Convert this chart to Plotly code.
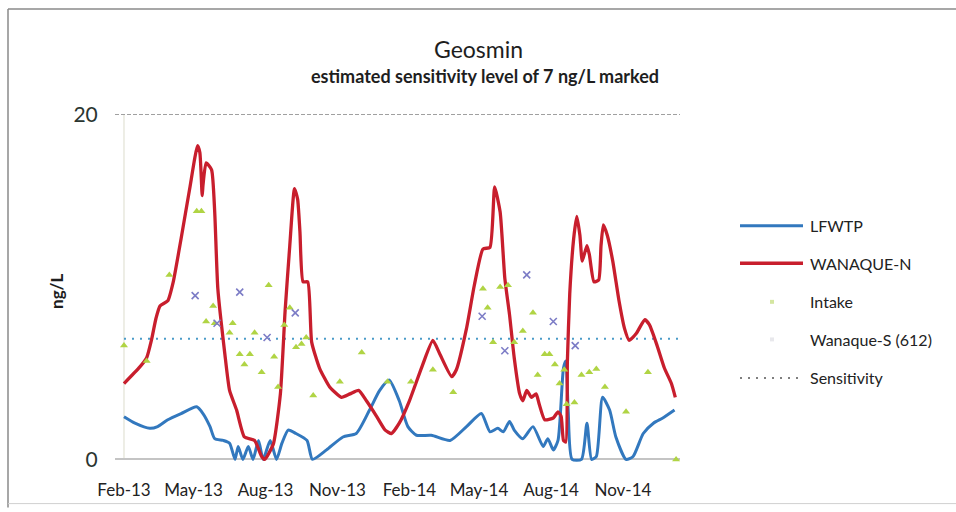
import plotly.graph_objects as go

# ---------------- data ----------------
lfwtp_dates = ["2013-02-01","2013-02-15","2013-03-06","2013-03-16","2013-03-29","2013-04-15","2013-05-05",
               "2013-05-13","2013-05-22","2013-05-28","2013-06-08","2013-06-16","2013-06-23","2013-06-27",
               "2013-07-03","2013-07-10","2013-07-16","2013-07-23","2013-07-29","2013-08-07","2013-08-15",
               "2013-08-22","2013-08-30","2013-09-09","2013-09-23","2013-09-30","2013-10-18","2013-11-08",
               "2013-11-25","2013-12-12","2013-12-25","2014-01-06","2014-01-19","2014-01-30","2014-02-10",
               "2014-03-01","2014-03-25","2014-04-15","2014-05-04","2014-05-15","2014-05-25","2014-06-01",
               "2014-06-09","2014-06-15","2014-06-26","2014-07-09","2014-07-22","2014-07-28","2014-08-04",
               "2014-08-10","2014-08-17","2014-08-20","2014-08-23","2014-08-28","2014-09-09","2014-09-16",
               "2014-09-22","2014-09-28","2014-10-06","2014-10-15","2014-10-23","2014-11-05","2014-11-14",
               "2014-11-27","2014-12-10","2014-12-22","2015-01-06"]
lfwtp_vals = [2.47,2.1,1.8,1.9,2.3,2.66,3.05,
              2.66,1.9,1.2,1.1,0.94,0.0,0.75,
              0.0,0.75,0.0,1.1,0.0,1.1,0.0,
              0.94,1.7,1.5,1.1,0.0,0.55,1.3,
              1.5,2.86,4.0,4.6,3.4,1.9,1.4,
              1.4,1.1,1.9,2.66,1.6,1.8,1.6,
              2.2,1.7,1.2,1.9,0.75,1.2,0.55,
              1.1,5.3,5.7,2.86,0.0,0.0,2.1,
              0.0,0.17,3.6,2.86,1.3,0.0,0.17,
              1.5,2.1,2.4,2.86]

wanaque_n_dates = ["2013-02-01","2013-02-21","2013-03-02","2013-03-08","2013-03-14","2013-03-19","2013-03-29",
                   "2013-04-05","2013-04-15","2013-04-26","2013-05-06","2013-05-09","2013-05-12","2013-05-13",
                   "2013-05-17","2013-05-24","2013-05-28","2013-06-01","2013-06-10","2013-06-16","2013-06-25",
                   "2013-07-05","2013-07-18","2013-07-27","2013-07-31","2013-08-11","2013-08-20","2013-08-26",
                   "2013-09-01","2013-09-07","2013-09-11","2013-09-14","2013-09-18","2013-09-24","2013-09-29",
                   "2013-10-09","2013-10-22","2013-11-06","2013-11-17","2013-11-28","2013-12-08","2013-12-21",
                   "2014-01-01","2014-01-09","2014-01-19","2014-02-01","2014-02-18","2014-03-03","2014-03-12",
                   "2014-03-27","2014-04-02","2014-04-15","2014-04-25","2014-05-06","2014-05-15","2014-05-21",
                   "2014-05-28","2014-06-03","2014-06-09","2014-06-15","2014-06-22","2014-06-26","2014-07-01",
                   "2014-07-07","2014-07-13","2014-07-17","2014-07-24","2014-08-04","2014-08-10","2014-08-14",
                   "2014-08-17","2014-08-20","2014-08-22","2014-08-25","2014-08-30","2014-09-03","2014-09-07",
                   "2014-09-10","2014-09-16","2014-09-19","2014-09-25","2014-10-01","2014-10-04","2014-10-07",
                   "2014-10-12","2014-10-19","2014-10-27","2014-11-03","2014-11-09","2014-11-18","2014-11-29",
                   "2014-12-05","2014-12-14","2014-12-24","2015-01-02","2015-01-07"]
wanaque_n_vals = [4.4,5.35,5.9,6.9,8.2,8.9,9.2,
                  10.3,12.8,15.7,18.2,17.8,15.3,15.9,
                  17.2,16.8,14.35,9.9,6.1,4.0,2.86,
                  1.3,1.1,0.17,0.0,0.9,3.8,8.6,
                  12.4,15.7,15.1,13.2,10.3,10.3,6.8,
                  5.3,4.2,3.6,3.8,4.0,3.4,2.5,
                  1.7,1.5,2.1,3.4,5.5,6.9,6.1,
                  4.8,5.2,7.6,10.1,12.2,12.3,15.8,
                  14.35,10.5,8.4,5.9,3.8,3.4,4.0,
                  3.6,3.8,3.2,2.3,2.4,2.76,2.5,
                  1.1,1.0,5.7,9.6,12.8,14.1,13.0,
                  11.5,12.4,11.9,10.3,10.4,12.4,13.6,
                  13.0,11.5,9.2,7.6,6.9,7.3,8.1,
                  7.8,6.7,5.3,4.4,3.6]

intake_dates = ["2013-02-01","2013-03-02","2013-03-31","2013-05-05","2013-05-11","2013-05-17","2013-05-26",
                "2013-05-28","2013-06-16","2013-06-20","2013-06-29","2013-07-05","2013-07-12","2013-07-18",
                "2013-07-27","2013-08-05","2013-08-12","2013-08-17","2013-08-25","2013-09-01","2013-09-09",
                "2013-09-16","2013-09-22","2013-10-01","2013-11-04","2013-12-02","2014-01-04","2014-02-03",
                "2014-03-03","2014-03-29","2014-05-06","2014-05-12","2014-05-19","2014-05-28","2014-06-07",
                "2014-06-15","2014-06-26","2014-07-09","2014-07-15","2014-07-24","2014-07-30","2014-08-06",
                "2014-08-12","2014-08-18","2014-08-21","2014-08-31","2014-09-09","2014-09-19","2014-09-28",
                "2014-10-09","2014-11-05","2014-12-03","2015-01-08"]
intake_vals = [6.6,5.7,10.7,14.4,14.4,8.0,8.9,
               7.9,7.35,7.9,6.1,5.5,6.1,7.35,
               5.06,10.1,5.96,4.2,7.8,8.8,6.5,
               6.7,7.07,3.7,4.5,6.2,4.5,4.5,
               5.2,3.9,9.9,8.8,6.8,10.0,10.1,
               6.8,7.45,8.5,4.9,6.1,6.1,5.5,
               4.4,5.2,3.2,3.3,4.9,5.06,5.25,
               4.2,2.76,5.06,0.0]

wanaque_s_dates = ["2013-05-03","2013-05-31","2013-06-29","2013-08-03","2013-09-08",
                   "2014-05-05","2014-06-03","2014-07-01","2014-08-04","2014-09-01"]
wanaque_s_vals = [9.5,7.9,9.7,7.07,8.5,
                  8.3,6.3,10.7,8.0,6.6]

sensitivity_dates = ["2013-02-01","2015-01-12"]
sensitivity_vals = [7,7]

x_range = ["2013-01-20 12:00","2015-01-13"]
y_range = [-0.5, 20.5]
y_ticks = [0, 20]

title_text = "Geosmin"
subtitle_text = "estimated sensitivity level of 7 ng/L marked"
y_title = "ng/L"

# ---------------- layout geometry (pixels) ----------------
W, H = 956, 512
L, R, T, B = 115, 276, 106, 40
PW, PH = W - L - R, H - T - B
FONT = "Lato"

def px(xp):
    return (xp - L) / PW

def py(yp):
    return (H - B - yp) / PH

RED = "#C81E2D"
BLUE = "#3278BE"
GREEN = "#B0D444"
PURPLE = "#7C7CC6"
TEAL = "#4A9BC8"

fig = go.Figure()

fig.add_trace(go.Scatter(x=sensitivity_dates, y=sensitivity_vals, mode="lines",
                         line=dict(color=TEAL, width=2, dash="2px,6px"), name="Sensitivity"))
fig.add_trace(go.Scatter(x=lfwtp_dates, y=lfwtp_vals, mode="lines",
                         line=dict(color=BLUE, width=3, shape="spline", smoothing=0.6), name="LFWTP"))
fig.add_trace(go.Scatter(x=wanaque_n_dates, y=wanaque_n_vals, mode="lines",
                         line=dict(color=RED, width=3.3, shape="spline", smoothing=0.5), name="WANAQUE-N"))
fig.add_trace(go.Scatter(x=intake_dates, y=intake_vals, mode="markers",
                         marker=dict(symbol="triangle-up", size=7, color=GREEN), cliponaxis=False,
                         name="Intake"))
fig.add_trace(go.Scatter(x=wanaque_s_dates, y=wanaque_s_vals, mode="markers",
                         marker=dict(symbol="x-thin-open", size=7, color=PURPLE,
                                     line=dict(color=PURPLE, width=1.6)),
                         cliponaxis=False, name="Wanaque-S (612)"))

shapes = []
# faint vertical axis line at first date
shapes.append(dict(type="line", xref="x", yref="y", x0="2013-02-01", x1="2013-02-01", y0=0, y1=20,
                   line=dict(color="#e2e2d4", width=1.2), layer="below"))
# document frame of the scanned page
shapes.append(dict(type="line", xref="paper", yref="paper", x0=px(8), x1=px(956), y0=py(8), y1=py(8),
                   line=dict(color="#8a8a8a", width=1.5)))
shapes.append(dict(type="line", xref="paper", yref="paper", x0=px(8), x1=px(8), y0=py(8), y1=py(512),
                   line=dict(color="#8a8a8a", width=1.5)))
shapes.append(dict(type="line", xref="paper", yref="paper", x0=px(8), x1=px(956), y0=py(508), y1=py(508),
                   line=dict(color="#d0d0d0", width=1)))

# manual legend
leg_x0, leg_x1, leg_tx = 740, 803, 808
legend_rows = [("LFWTP", 227), ("WANAQUE-N", 265), ("Intake", 304), ("Wanaque-S (612)", 342), ("Sensitivity", 381)]
shapes.append(dict(type="line", xref="paper", yref="paper", x0=px(leg_x0), x1=px(leg_x1),
                   y0=py(227), y1=py(227), line=dict(color=BLUE, width=3)))
shapes.append(dict(type="line", xref="paper", yref="paper", x0=px(leg_x0), x1=px(leg_x1),
                   y0=py(265), y1=py(265), line=dict(color=RED, width=3.3)))
shapes.append(dict(type="rect", xref="paper", yref="paper", x0=px(770), x1=px(774),
                   y0=py(306), y1=py(302), line=dict(width=0), fillcolor="#d4e6a0"))
shapes.append(dict(type="rect", xref="paper", yref="paper", x0=px(770), x1=px(774),
                   y0=py(344), y1=py(340), line=dict(width=0), fillcolor="#e8e8ec"))
shapes.append(dict(type="line", xref="paper", yref="paper", x0=px(leg_x0), x1=px(leg_x1 - 4),
                   y0=py(381), y1=py(381), line=dict(color="#555555", width=1.3, dash="2px,6px")))

annotations = []
for label, yy in legend_rows:
    annotations.append(dict(text=label, xref="paper", yref="paper", x=px(leg_tx), y=py(yy),
                            xanchor="left", yanchor="middle", showarrow=False,
                            font=dict(family=FONT, size=16, color="#222222")))

annotations.append(dict(text=title_text, xref="paper", yref="paper", x=px(478), y=py(48),
                        xanchor="center", yanchor="middle", showarrow=False,
                        font=dict(family=FONT, size=23, color="#1e1e1e")))
annotations.append(dict(text="<b>" + subtitle_text + "</b>", xref="paper", yref="paper", x=px(485), y=py(76),
                        xanchor="center", yanchor="middle", showarrow=False,
                        font=dict(family=FONT, size=18, color="#1e1e1e")))
annotations.append(dict(text="<b>" + y_title + "</b>", xref="paper", yref="paper", x=px(57), y=py(294),
                        xanchor="center", yanchor="middle", textangle=-90, showarrow=False,
                        font=dict(family=FONT, size=17, color="#1e1e1e")))

fig.update_layout(
    width=W, height=H,
    margin=dict(l=L, r=R, t=T, b=B, pad=0),
    paper_bgcolor="white", plot_bgcolor="white",
    showlegend=False,
    shapes=shapes, annotations=annotations,
    xaxis=dict(type="date", range=x_range, tick0="2013-02-01", dtick="M3", tickformat="%b-%y",
               showgrid=False, zeroline=False, showline=False,
               ticks="outside", ticklen=7, tickcolor="rgba(0,0,0,0)",
               tickfont=dict(family=FONT, size=17, color="#222222")),
    yaxis=dict(range=y_range, tickvals=y_ticks, showgrid=True, gridcolor="#a0a0a0", griddash="4px,2px",
               gridwidth=1, zeroline=True, zerolinecolor="#c4c4c4", zerolinewidth=1.5, showline=False,
               ticks="outside", ticklen=12, tickcolor="rgba(0,0,0,0)",
               tickfont=dict(family=FONT, size=21, color="#2a3530")),
)

page_fix = (
    "var d=document.documentElement, b=document.body;"
    "d.style.margin='0'; d.style.padding='0'; d.style.overflow='hidden'; d.style.height='512px';"
    "b.style.margin='0'; b.style.padding='0'; b.style.overflow='hidden'; b.style.height='512px';"
    "var g=document.getElementById('{plot_id}');"
    "if(g){g.style.display='block'; if(g.parentElement){g.parentElement.style.lineHeight='0';"
    "g.parentElement.style.height='512px'; g.parentElement.style.overflow='hidden';}}"
)
fig.write_html("out.html", config={"displayModeBar": False}, post_script=page_fix)
